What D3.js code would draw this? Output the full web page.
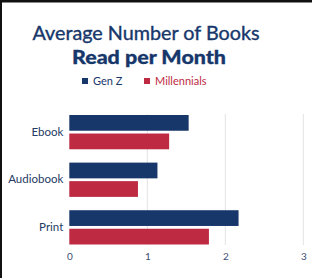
<!DOCTYPE html>
<html>
<head>
<meta charset="utf-8">
<script src="https://cdn.jsdelivr.net/npm/d3@7"></script>
<style>
  html, body { margin: 0; padding: 0; background: #fff; }
  svg { display: block; }
</style>
</head>
<body>
<svg id="chart"></svg>
<script>
const categories = ["Ebook", "Audiobook", "Print"];
const seriesNames = ["Gen Z", "Millennials"];
const genZ = [1.53, 1.13, 2.17];
const millennials = [1.28, 0.88, 1.79];
const xTicks = [0, 1, 2, 3];

const width = 312;
const height = 278;
const navy = "#17376b";
const red = "#bd2a42";
const colors = [navy, red];

const svg = d3.select("#chart").attr("width", width).attr("height", height);

// frame: top and left black edges
svg.append("rect").attr("x", 0).attr("y", 0).attr("width", width).attr("height", 2.5).attr("fill", "#111");
svg.append("rect").attr("x", 0).attr("y", 0).attr("width", 2).attr("height", height).attr("fill", "#111");

const x = d3.scaleLinear().domain([0, 3]).range([69.3, 303.3]);
const y = d3.scaleBand().domain(categories).range([115, 244.5]).paddingInner(0.28).paddingOuter(0);
const ySub = d3.scaleBand().domain(seriesNames).range([0, y.bandwidth()]).paddingInner(0.15);

// grid
svg.append("g")
  .selectAll("line")
  .data(xTicks.slice(1))
  .enter()
  .append("line")
  .attr("x1", d => x(d)).attr("x2", d => x(d))
  .attr("y1", 114).attr("y2", 245)
  .attr("stroke", "#e3e3e6")
  .attr("stroke-width", 1);

// title
const title = svg.append("g")
  .attr("fill", navy)
  .style("font-family", "Lato, sans-serif");
title.append("text")
  .attr("x", 32.5).attr("y", 40)
  .attr("textLength", 227).attr("lengthAdjust", "spacingAndGlyphs")
  .attr("stroke", navy).attr("stroke-width", 0.35)
  .style("font-size", "18.5px")
  .text("Average Number of Books");
title.append("text")
  .attr("x", 72).attr("y", 63.5)
  .attr("textLength", 154).attr("lengthAdjust", "spacingAndGlyphs")
  .attr("stroke", navy).attr("stroke-width", 0.3)
  .style("font-size", "18.5px").style("font-weight", 900)
  .text("Read per Month");

// legend
const legendX = [82, 144];
const legend = svg.append("g").selectAll("g")
  .data(seriesNames)
  .enter()
  .append("g")
  .attr("transform", (d, i) => `translate(${legendX[i]}, 81)`);
legend.append("rect")
  .attr("x", 0).attr("y", -3).attr("width", 6).attr("height", 6)
  .attr("fill", (d, i) => colors[i]);
legend.append("text")
  .attr("x", 11).attr("y", 4)
  .attr("fill", (d, i) => i === 0 ? navy : red)
  .style("font-family", "Lato, sans-serif")
  .style("font-size", "11px")
  .text(d => d);

// bars
const rows = categories.map((c, i) => ({ cat: c, values: [genZ[i], millennials[i]] }));
const groups = svg.append("g").selectAll("g")
  .data(rows)
  .enter()
  .append("g")
  .attr("transform", d => `translate(0, ${y(d.cat)})`);
groups.selectAll("rect")
  .data(d => d.values.map((v, i) => ({ name: seriesNames[i], value: v, i })))
  .enter()
  .append("rect")
  .attr("x", x(0))
  .attr("y", d => ySub(d.name))
  .attr("width", d => x(d.value) - x(0))
  .attr("height", ySub.bandwidth())
  .attr("fill", d => colors[d.i]);

// y axis labels
svg.append("g")
  .attr("transform", `translate(${x(0)}, 0)`)
  .call(d3.axisLeft(y).tickSize(0).tickPadding(6))
  .call(g => g.select(".domain").remove())
  .call(g => g.selectAll("text")
    .attr("fill", "#253a63")
    .style("font-family", "Lato, sans-serif")
    .style("font-size", "11.5px"));

// x axis labels
svg.append("g")
  .attr("transform", "translate(0, 253)")
  .call(d3.axisBottom(x).tickValues(xTicks).tickSize(0).tickPadding(0).tickFormat(d3.format("d")))
  .call(g => g.select(".domain").remove())
  .call(g => g.selectAll("text")
    .attr("fill", "#3d4f72")
    .style("font-family", "Lato, sans-serif")
    .style("font-size", "10px"));
</script>
</body>
</html>
